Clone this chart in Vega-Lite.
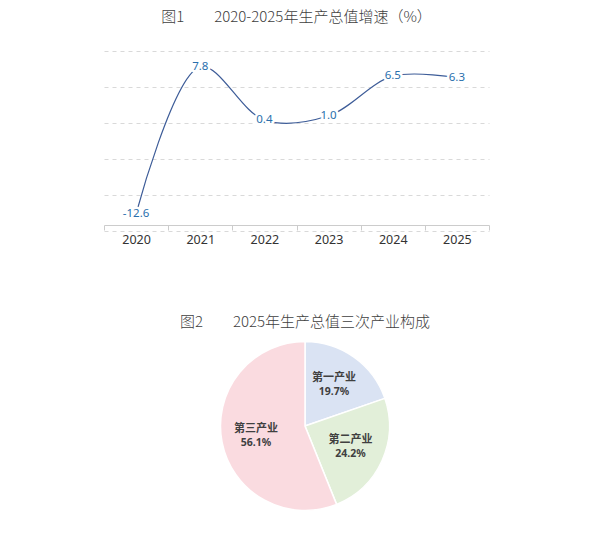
{
  "$schema": "https://vega.github.io/schema/vega-lite/v6.json",
  "background": "white",
  "padding": {"left": 103, "top": 10, "right": 0, "bottom": 0},
  "spacing": 68,
  "config": {
    "view": {"stroke": null},
    "font": "Noto Sans CJK SC",
    "locale": {
      "number": {"decimal": ".", "thousands": ",", "grouping": [3], "currency": ["", ""], "minus": "-"}
    },
    "title": {"fontSize": 15, "fontWeight": 300, "color": "#404040", "anchor": "middle", "font": "Noto Sans CJK SC"}
  },
  "vconcat": [
    {
      "title": {"text": "图1　　2020-2025年生产总值增速（%）", "offset": 26},
      "width": 385,
      "height": 180,
      "data": {
        "values": [
          {"year": "2020", "growth": -12.6},
          {"year": "2021", "growth": 7.8},
          {"year": "2022", "growth": 0.4},
          {"year": "2023", "growth": 1.0},
          {"year": "2024", "growth": 6.5},
          {"year": "2025", "growth": 6.3}
        ]
      },
      "encoding": {
        "x": {
          "field": "year",
          "type": "ordinal",
          "scale": {"type": "band", "paddingInner": 0, "paddingOuter": 0},
          "axis": {
            "title": null,
            "labelAngle": 0,
            "tickBand": "extent",
            "offset": -6,
            "domainColor": "#cccccc",
            "tickColor": "#cccccc",
            "tickSize": 5,
            "labelPadding": 3,
            "labelFontSize": 12.5,
            "labelColor": "#333333",
            "labelFont": "Noto Sans",
            "grid": false
          }
        },
        "y": {
          "field": "growth",
          "type": "quantitative",
          "scale": {"domain": [-15, 10], "nice": false},
          "axis": {
            "title": null,
            "labels": false,
            "ticks": false,
            "domain": false,
            "values": [-15, -10, -5, 0, 5, 10],
            "gridColor": "#d9d9d9",
            "gridDash": [4, 4]
          }
        }
      },
      "layer": [
        {"mark": {"type": "line", "interpolate": "catmull-rom", "color": "#3d5c98", "strokeWidth": 1.2}},
        {
          "mark": {"type": "text", "fontSize": 11.5, "font": "Noto Sans", "stroke": "white", "strokeWidth": 5, "strokeJoin": "round", "fill": "white"},
          "encoding": {"text": {"field": "growth", "type": "quantitative", "format": ".1f"}}
        },
        {
          "mark": {"type": "text", "fontSize": 11.5, "font": "Noto Sans", "color": "#2a6fad"},
          "encoding": {"text": {"field": "growth", "type": "quantitative", "format": ".1f"}}
        }
      ]
    },
    {
      "title": {"text": "图2　　2025年生产总值三次产业构成", "offset": 9},
      "width": 402,
      "height": 172,
      "data": {
        "values": [
          {"industry": "第一产业", "share": 0.197, "rank": 1},
          {"industry": "第二产业", "share": 0.242, "rank": 2},
          {"industry": "第三产业", "share": 0.561, "rank": 3}
        ]
      },
      "encoding": {
        "theta": {"field": "share", "type": "quantitative", "stack": true},
        "order": {"field": "rank", "type": "quantitative"}
      },
      "layer": [
        {
          "mark": {"type": "arc", "outerRadius": 84.5, "stroke": "white", "strokeWidth": 1.5},
          "encoding": {
            "color": {
              "field": "industry",
              "type": "nominal",
              "scale": {"domain": ["第一产业", "第二产业", "第三产业"], "range": ["#dae3f3", "#e2efd9", "#fadbe0"]},
              "legend": null
            }
          }
        },
        {
          "mark": {"type": "text", "radius": 50, "dy": -7, "fontSize": 11, "fontWeight": "bold", "color": "#404040"},
          "encoding": {"text": {"field": "industry", "type": "nominal"}}
        },
        {
          "mark": {"type": "text", "radius": 50, "dy": 7, "fontSize": 10.5, "fontWeight": "bold", "color": "#404040", "font": "Noto Sans"},
          "encoding": {"text": {"field": "share", "type": "quantitative", "format": ".1%"}}
        }
      ]
    }
  ]
}
